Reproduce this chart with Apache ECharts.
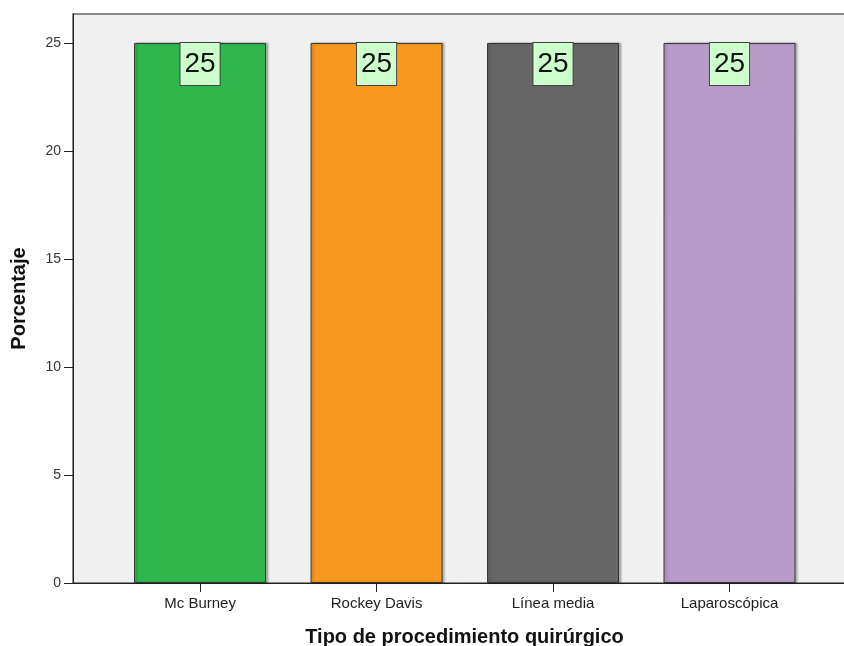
<!DOCTYPE html>
<html>
<head>
<meta charset="utf-8">
<style>
  html, body { margin: 0; padding: 0; background: #ffffff; overflow: hidden; }
  #chart { width: 844px; height: 646px; }
</style>
<script src="https://cdn.jsdelivr.net/npm/echarts@6/dist/echarts.min.js"></script>
</head>
<body>
<div id="chart"></div>
<script>
// Surgical procedure types and their percentage share
const categories = ['Mc Burney', 'Rockey Davis', 'Línea media', 'Laparoscópica'];
const percentages = [25, 25, 25, 25];
const barColors = ['#2eb84b', '#f8981f', '#666666', '#b89bc9'];
const yTicks = [0, 5, 10, 15, 20, 25];

const positions = categories.map((_, i) => i);
const font = '"Liberation Sans", Arial, sans-serif';

const chart = echarts.init(document.getElementById('chart'), null, { renderer: 'canvas' });

chart.setOption({
  backgroundColor: '#ffffff',
  animation: false,
  grid: {
    left: 73, right: -2, top: 14, bottom: 63,
    outerBoundsMode: 'none',
    containLabel: false,
    show: true,
    backgroundColor: '#f0f0f0',
    borderColor: '#8a8a8a',
    borderWidth: 2
  },
  xAxis: {
    type: 'value',
    min: -0.72,
    max: 3.66,
    splitLine: { show: false },
    axisLine: { show: true, onZero: false, lineStyle: { color: '#222', width: 1 } },
    axisTick: { show: true, length: 9, customValues: positions, lineStyle: { color: '#222' } },
    axisLabel: {
      customValues: positions,
      formatter: v => categories[Math.round(v)],
      color: '#222', fontFamily: font, fontSize: 15, margin: 13
    },
    name: 'Tipo de procedimiento quirúrgico',
    nameLocation: 'middle',
    nameGap: 44,
    nameTextStyle: { fontFamily: font, fontSize: 20, fontWeight: 'bold', color: '#111', padding: [0, 0, 0, 10] }
  },
  yAxis: {
    type: 'value',
    min: 0,
    max: 26.34,
    interval: 5,
    splitLine: { show: false },
    axisLine: { show: true, onZero: false, lineStyle: { color: '#222', width: 1 } },
    axisTick: { show: true, length: 9, customValues: yTicks, lineStyle: { color: '#222' } },
    axisLabel: {
      customValues: yTicks,
      color: '#333', fontFamily: font, fontSize: 14, margin: 12
    },
    name: 'Porcentaje',
    nameLocation: 'middle',
    nameGap: 44,
    nameTextStyle: { fontFamily: font, fontSize: 20, fontWeight: 'bold', color: '#111' }
  },
  series: [{
    type: 'bar',
    barWidth: 132,
    data: percentages.map((v, i) => ({
      value: [i, v],
      itemStyle: { color: barColors[i] }
    })),
    itemStyle: {
      borderColor: '#333333',
      borderWidth: 1,
      shadowColor: 'rgba(0,0,0,0.25)',
      shadowBlur: 2,
      shadowOffsetX: 2,
      shadowOffsetY: 0
    },
    label: {
      show: true,
      position: 'insideTop',
      distance: 0,
      formatter: p => p.value[1],
      fontFamily: font,
      fontSize: 28,
      color: '#111',
      backgroundColor: '#ccffcc',
      borderColor: '#444',
      borderWidth: 1,
      padding: [6, 4, 5, 4],
      lineHeight: 31
    }
  }]
});
</script>
</body>
</html>
